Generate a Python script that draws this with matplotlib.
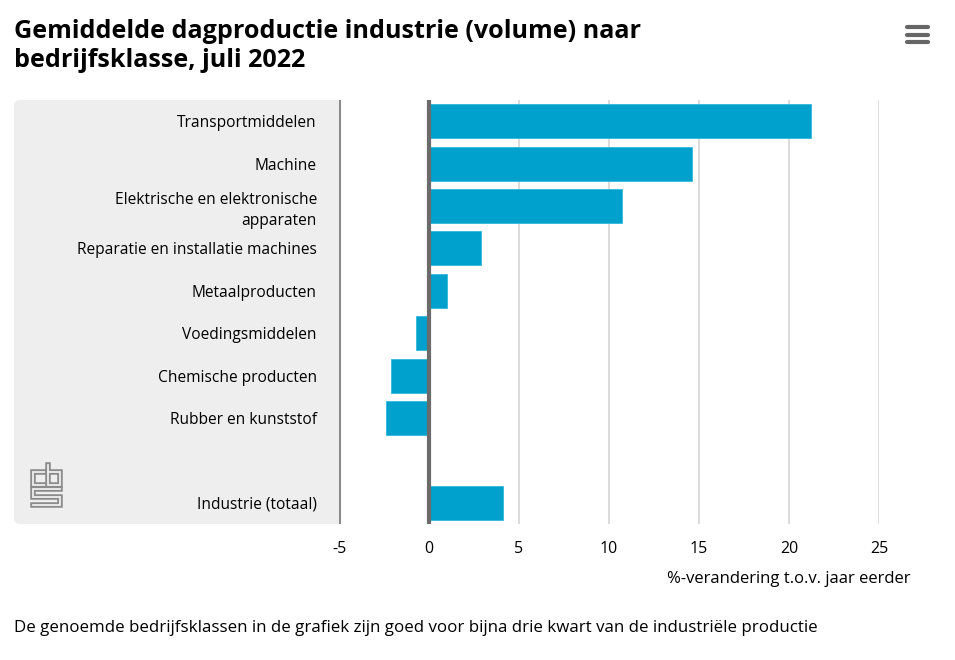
import matplotlib
matplotlib.use("Agg")
import matplotlib.pyplot as plt
import numpy as np
from matplotlib.patches import FancyBboxPatch

plt.rcParams['font.family'] = ['Open Sans', 'DejaVu Sans']

# data
categories = ["Transportmiddelen", "Machine", "Elektrische en elektronische\napparaten",
              "Reparatie en installatie machines", "Metaalproducten", "Voedingsmiddelen",
              "Chemische producten", "Rubber en kunststof", "", "Industrie (totaal)"]
values = [21.2, 14.6, 10.7, 2.9, 1.0, -0.7, -2.1, -2.4, np.nan, 4.1]
xticks = [-5, 0, 5, 10, 15, 20, 25]

W, H = 955, 660
fig = plt.figure(figsize=(W / 100, H / 100), dpi=100)

def px(x0, y0, x1, y1):
    # pixel box (top-left origin) -> figure fraction rect
    return [x0 / W, 1 - y1 / H, (x1 - x0) / W, (y1 - y0) / H]

# background axes in pixel coordinates
bg = fig.add_axes([0, 0, 1, 1], zorder=-1)
bg.axis("off")
bg.set_xlim(0, W)
bg.set_ylim(H, 0)
bg.add_patch(FancyBboxPatch((14, 100), 330 - 14, 424,
                            boxstyle="round,pad=0,rounding_size=6",
                            facecolor="#eeeeee", edgecolor="none"))
bg.add_patch(plt.Rectangle((320, 100), 19, 424, facecolor="#eeeeee", edgecolor="none"))

# cbs logo
logo = [
    [(46, 472), (33, 472), (33, 485), (46, 485)],
    [(48, 465), (48, 485), (60, 485), (60, 472), (48, 472)],
    [(60, 489), (33, 489), (33, 497), (60, 497), (60, 505), (33, 505)],
]
for p in logo:
    xs, ys = zip(*p)
    bg.plot(xs, ys, color="#8c8c8c", lw=4.0, solid_joinstyle="miter")
    bg.plot(xs, ys, color="#eeeeee", lw=1.3, solid_joinstyle="miter")

# menu icon
for yy in [27, 34.5, 42]:
    bg.plot([907, 928], [yy, yy], color="#666666", lw=3, solid_capstyle="round")

ax = fig.add_axes(px(339, 100, 879, 524))
ax.set_facecolor("none")
y = np.arange(len(categories))
ax.barh(y, values, height=0.8, color="#00a1cd", edgecolor="#33b8dc", linewidth=0.6, zorder=3)
ax.set_ylim(len(categories) - 0.5, -0.5)
ax.set_xlim(-5, 25)

for t in xticks[2:]:
    ax.axvline(t, color="#d6d6d6", lw=1.2, zorder=1)
ax.axvline(0, color="#6b6b6b", lw=3, zorder=4)
ax.axvline(-5, color="#8a8a8a", lw=2.2, zorder=4)

ax.set_xticks(xticks)
ax.set_xticklabels([str(t) for t in xticks], fontsize=11.5)
ax.set_yticks(y)
ax.set_yticklabels(categories, fontsize=11.2, multialignment="right", linespacing=1.45)
for lab in ax.get_yticklabels():
    lab.set_y(lab.get_position()[1])
ax.tick_params(axis="both", length=0)
ax.tick_params(axis="x", pad=12)
ax.tick_params(axis="y", pad=16)
for s in ax.spines.values():
    s.set_visible(False)

fig.text(910 / W, 1 - 579 / H, "%-verandering t.o.v. jaar eerder",
         ha="right", va="center", fontsize=12)
fig.text(14 / W, 1 - 628 / H,
         "De genoemde bedrijfsklassen in de grafiek zijn goed voor bijna drie kwart van de industriële productie",
         ha="left", va="center", fontsize=12.2)
fig.text(14 / W, 1 - 46 / H, "Gemiddelde dagproductie industrie (volume) naar\nbedrijfsklasse, juli 2022",
         ha="left", va="center", fontsize=18.1, fontweight="bold", linespacing=1.25)

fig.savefig("out.png", dpi=100)
